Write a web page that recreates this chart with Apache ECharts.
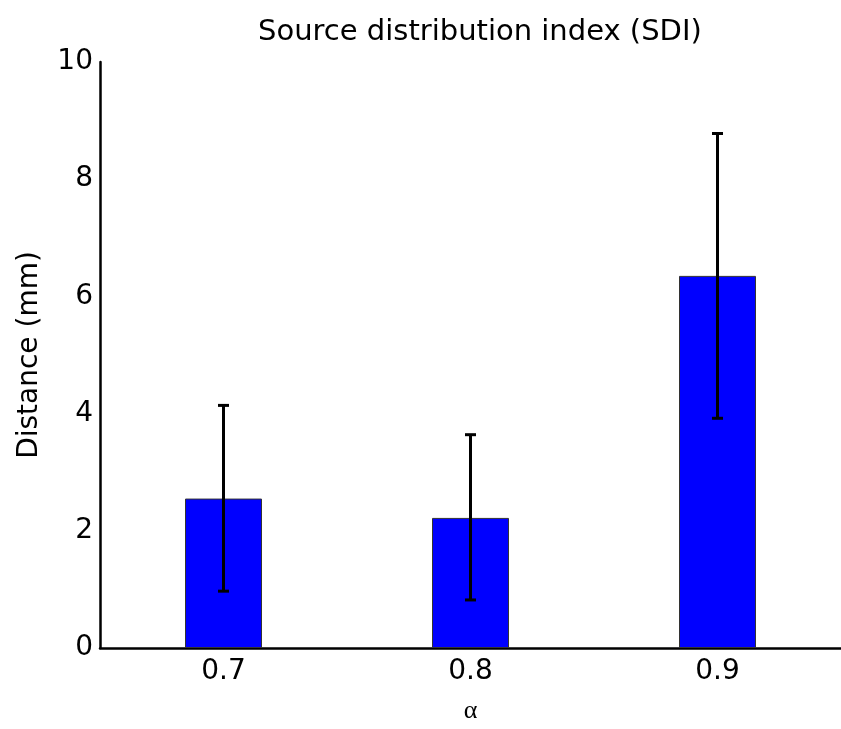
<!DOCTYPE html>
<html>
<head>
<meta charset="utf-8">
<script src="https://cdn.jsdelivr.net/npm/echarts@6/dist/echarts.min.js"></script>
<style>html,body{margin:0;padding:0;background:#fff;overflow:hidden;}#c{width:841px;height:729px;}</style>
</head>
<body>
<div id="c"></div>
<script>
var categories = ['0.7', '0.8', '0.9'];
var means = [2.55, 2.22, 6.35];
var errLow = [0.97, 0.82, 3.92];
var errHigh = [4.14, 3.64, 8.78];
var yTicks = [0, 2, 4, 6, 8, 10];

var chart = echarts.init(document.getElementById('c'));
var font = 'DejaVu Sans';
var errData = categories.map(function (c, i) { return [i, errLow[i], errHigh[i]]; });

chart.setOption({
  animation: false,
  backgroundColor: '#ffffff',
  title: {
    text: 'Source distribution index (SDI)',
    left: 253, top: 13,
    textStyle: { fontFamily: font, fontSize: 29, fontWeight: 'normal', color: '#000' }
  },
  graphic: [{
    type: 'text', left: 229, top: -27,
    style: { text: '(c)', font: '29px "DejaVu Sans"', fill: '#000' }
  }],
  grid: { left: 100, width: 750, top: 62, height: 593 },
  xAxis: {
    type: 'category',
    data: categories,
    name: 'α',
    nameLocation: 'middle',
    nameGap: 50,
    nameTextStyle: { fontFamily: 'Liberation Serif', fontSize: 26, color: '#000' },
    axisLine: { lineStyle: { color: '#000', width: 2.5 } },
    axisTick: { show: false },
    axisLabel: { fontFamily: font, fontSize: 28, color: '#000', margin: 10 },
    splitLine: { show: false }
  },
  yAxis: {
    type: 'value',
    min: yTicks[0], max: yTicks[yTicks.length - 1], interval: 2,
    name: 'Distance (mm)',
    nameLocation: 'middle',
    nameGap: 56,
    nameTextStyle: { fontFamily: font, fontSize: 28, color: '#000' },
    axisLine: { show: true, lineStyle: { color: '#000', width: 2.5 } },
    axisTick: { show: false },
    axisLabel: { fontFamily: font, fontSize: 28, color: '#000', margin: 7 },
    splitLine: { show: false }
  },
  series: [{
    type: 'bar',
    data: means,
    barWidth: 77,
    itemStyle: { color: '#0000ff', borderColor: '#333', borderWidth: 1 }
  }, {
    type: 'custom',
    data: errData,
    z: 10,
    renderItem: function (params, api) {
      var x = api.value(0);
      var lo = api.coord([x, api.value(1)]);
      var hi = api.coord([x, api.value(2)]);
      var cap = 5.5;
      var st = { stroke: '#000', lineWidth: 3 };
      return {
        type: 'group',
        children: [
          { type: 'line', shape: { x1: lo[0], y1: lo[1], x2: hi[0], y2: hi[1] }, style: st },
          { type: 'line', shape: { x1: lo[0] - cap, y1: lo[1], x2: lo[0] + cap, y2: lo[1] }, style: st },
          { type: 'line', shape: { x1: hi[0] - cap, y1: hi[1], x2: hi[0] + cap, y2: hi[1] }, style: st }
        ]
      };
    }
  }]
});
</script>
</body>
</html>
